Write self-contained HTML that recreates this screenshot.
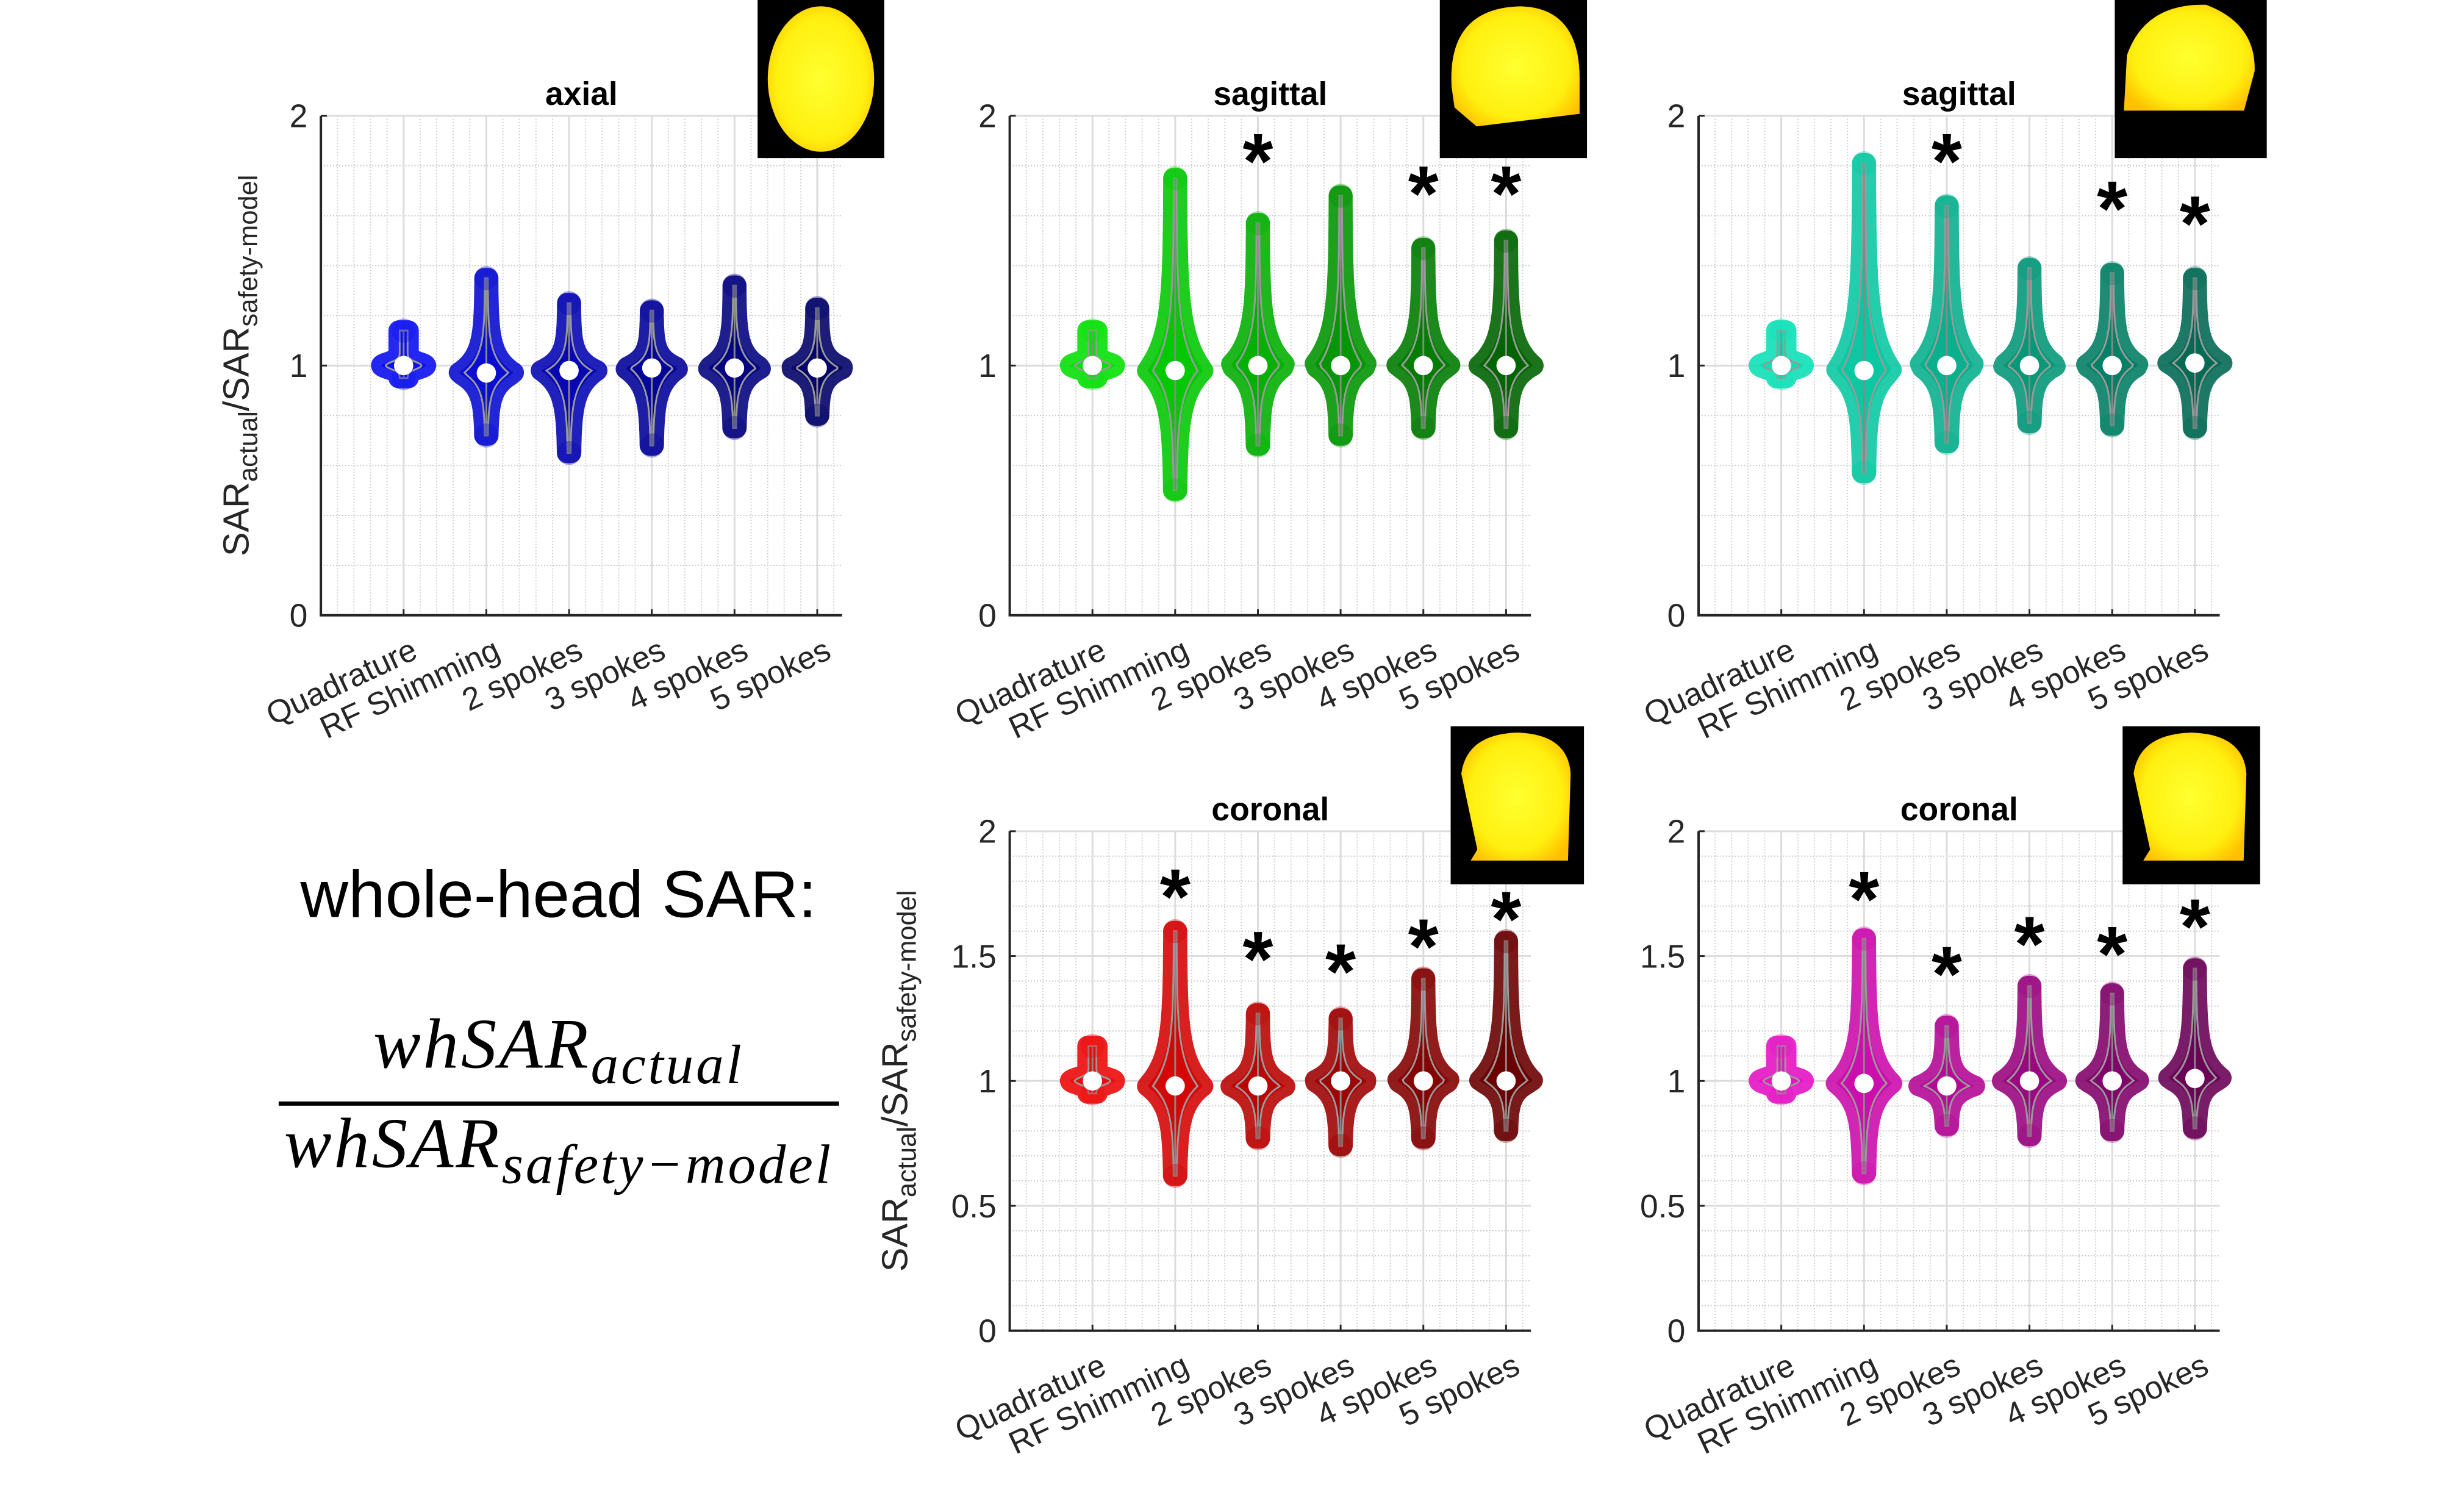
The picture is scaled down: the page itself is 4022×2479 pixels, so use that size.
<!DOCTYPE html>
<html><head><meta charset="utf-8"><style>
html,body{margin:0;padding:0;background:#fff}
svg{display:block}
text{font-family:"Liberation Sans",Arial,sans-serif}
</style></head><body>
<svg id="fig" width="4022" height="2479" viewBox="0 0 4022 2479" xmlns="http://www.w3.org/2000/svg">
<rect width="4022" height="2479" fill="#fff"/>
<g id="root" transform="scale(0.989)">
<g>
<text x="926" y="1520" font-size="110" text-anchor="middle" fill="#000">whole-head SAR:</text>
<text x="926" y="1770" font-size="118" font-style="italic" text-anchor="middle" style="font-family:'Liberation Serif',serif;letter-spacing:4px" fill="#000">whSAR<tspan font-size="92" dy="26">actual</tspan></text>
<rect x="462" y="1826" width="929" height="7" fill="#000"/>
<text x="926" y="1935" font-size="118" font-style="italic" text-anchor="middle" style="font-family:'Liberation Serif',serif;letter-spacing:4px" fill="#000">whSAR<tspan font-size="92" dy="26">safety−model</tspan></text>
</g>
</g>
</svg>
<script>
// ---------- data ----------
const categories = ["Quadrature","RF Shimming","2 spokes","3 spokes","4 spokes","5 spokes"];
const axialMedian = [1.00,0.97,0.98,0.99,0.99,0.99];
const axialMin    = [0.95,0.72,0.65,0.68,0.75,0.80];
const axialMax    = [1.14,1.35,1.25,1.22,1.32,1.23];
const sag1Median = [1.00,0.98,1.00,1.00,1.00,1.00];
const sag1Min    = [0.95,0.50,0.68,0.72,0.75,0.75];
const sag1Max    = [1.14,1.75,1.57,1.68,1.47,1.50];
const sag1Stars  = [null,null,1.86,null,1.73,1.73];
const sag2Median = [1.00,0.98,1.00,1.00,1.00,1.01];
const sag2Min    = [0.95,0.57,0.69,0.77,0.76,0.75];
const sag2Max    = [1.14,1.81,1.64,1.39,1.37,1.35];
const sag2Stars  = [null,null,1.86,null,1.67,1.61];
const cor1Median = [1.00,0.98,0.98,1.00,1.00,1.00];
const cor1Min    = [0.95,0.62,0.77,0.74,0.77,0.80];
const cor1Max    = [1.14,1.60,1.27,1.25,1.41,1.56];
const cor1Stars  = [null,1.78,1.53,1.48,1.58,1.69];
const cor2Median = [1.00,0.99,0.98,1.00,1.00,1.01];
const cor2Min    = [0.95,0.63,0.82,0.78,0.80,0.81];
const cor2Max    = [1.14,1.57,1.22,1.38,1.35,1.45];
const cor2Stars  = [null,1.77,1.47,1.59,1.55,1.66];
const halfWidth  = [0.27,0.34,0.34,0.33,0.33,0.33];
const topTicks = [0,1,2];
const botTicks = [0,0.5,1,1.5,2];

const NS="http://www.w3.org/2000/svg";
const svg=document.getElementById('root');
function mk(tag,attrs,parent){const e=document.createElementNS(NS,tag);for(const k in attrs)e.setAttribute(k,attrs[k]);(parent||svg).appendChild(e);return e;}

const panels=[
 {name:'axial',title:'axial',x0:532,x1:1396,y0:192,y1:1020,ticks:topTicks,minor:0.2,med:axialMedian,mn:axialMin,mx:axialMax,stars:[null,null,null,null,null,null],
  colors:['#0c10f0','#0a0ed0','#0808b4','#06069a','#050580','#040468'],ylabel:120,img:[1256,0,210,262,'axial']},
 {name:'sagittal-green',title:'sagittal',x0:1674,x1:2538,y0:192,y1:1020,ticks:topTicks,minor:0.2,med:sag1Median,mn:sag1Min,mx:sag1Max,stars:sag1Stars,
  colors:['#08e008','#06c806','#05b005','#049604','#037c03','#026402'],ylabel:0,img:[2387,0,244,262,'sag']},
 {name:'sagittal-teal',title:'sagittal',x0:2816,x1:3680,y0:192,y1:1020,ticks:topTicks,minor:0.2,med:sag2Median,mn:sag2Min,mx:sag2Max,stars:sag2Stars,
  colors:['#0ee0b6','#0cc8a2','#0ab08e','#08987a','#068066','#046a54'],ylabel:0,img:[3506,0,252,262,'sag2']},
 {name:'coronal-red',title:'coronal',x0:1674,x1:2538,y0:1378,y1:2206,ticks:botTicks,minor:0.1,med:cor1Median,mn:cor1Min,mx:cor1Max,stars:cor1Stars,
  colors:['#ec0a0a','#d40808','#ba0606','#9e0404','#840303','#6a0202'],ylabel:170,img:[2405,1204,221,262,'cor']},
 {name:'coronal-magenta',title:'coronal',x0:2816,x1:3680,y0:1378,y1:2206,ticks:botTicks,minor:0.1,med:cor2Median,mn:cor2Min,mx:cor2Max,stars:cor2Stars,
  colors:['#e414c4','#cc0eac','#b40a96','#9a0880','#82066c','#6a0458'],ylabel:0,img:[3519,1204,228,262,'cor2']}
];

panels.forEach(p=>{
 const g=mk('g',{});
 
 
 const xs=v=>p.x0+(p.x1-p.x0)*v/6.3;
 const ys=v=>p.y1-(p.y1-p.y0)*v/2;
 for(let v=0;v<=2.0001;v+=p.minor){const y=ys(v);mk('line',{x1:p.x0,x2:p.x1,y1:y,y2:y,stroke:'#c8c8c8','stroke-width':2,'stroke-dasharray':'2,3'},g);}
 for(let c=0.2;c<6.3;c+=0.2){const x=xs(c);mk('line',{x1:x,x2:x,y1:p.y0,y2:p.y1,stroke:'#d0d0d0','stroke-width':2,'stroke-dasharray':'2,3'},g);}
 p.ticks.forEach(v=>{const y=ys(v);mk('line',{x1:p.x0,x2:p.x1,y1:y,y2:y,stroke:'#dcdcdc','stroke-width':3},g);});
 categories.forEach((c,i)=>{const x=xs(i+1);mk('line',{x1:x,x2:x,y1:p.y0,y2:p.y1,stroke:'#dcdcdc','stroke-width':3},g);});
 categories.forEach((c,i)=>{
  const vg=mk('g',{},g);
  
  
  const cx=xs(i+1), med=p.med[i], lo=p.mn[i], hi=p.mx[i];
  const W=(xs(halfWidth[i])-xs(0));
  const su=Math.max(0.02,(hi-med)*0.18), sd=Math.max(0.02,(med-lo)*0.22);
  const N=60, right=[], left=[];
  for(let k=0;k<=N;k++){
   const v=lo+(hi-lo)*k/N;
   const d=v-med; const s=d>0?su:sd;
   let w=W*(0.06+0.94*Math.exp(-Math.abs(d)/s));
   if(i===0){w=W*(0.22+0.78*Math.exp(-Math.pow(d/0.02,2)));}
   right.push([cx+w,ys(v)]);left.push([cx-w,ys(v)]);
  }
  const pts=right.concat(left.reverse());
  const dstr='M'+pts.map(q=>q[0].toFixed(1)+','+q[1].toFixed(1)).join('L')+'Z';
  const col=p.colors[i];
  mk('path',{d:dstr,fill:col,stroke:col,'stroke-width':34,'stroke-linejoin':'round','stroke-opacity':0.9},vg);
  mk('line',{x1:cx,x2:cx,y1:ys(lo),y2:ys(hi),stroke:'#888','stroke-width':3},vg);
  const inner=right.map(q=>[cx+(q[0]-cx)*0.8,q[1]]).concat(left.map(q=>[cx+(q[0]-cx)*0.8,q[1]]));
  mk('path',{d:'M'+inner.map(q=>q[0].toFixed(1)+','+q[1].toFixed(1)).join('L')+'Z',fill:'none',stroke:'#9a9a9a','stroke-width':3},vg);
  mk('circle',{cx:cx,cy:ys(hi),r:20,fill:col,'fill-opacity':0.35},vg);
  mk('circle',{cx:cx,cy:ys(lo),r:20,fill:col,'fill-opacity':0.35},vg);
  mk('circle',{cx:cx,cy:ys(med),r:16,fill:'#fff'},vg);
  if(p.stars[i]!=null){
   const st=mk('text',{x:cx,y:ys(p.stars[i])+62,'font-size':130,'font-weight':'bold','text-anchor':'middle',fill:'#000'},g);
   st.textContent='*';
   
   
  }
 });
 mk('line',{x1:p.x0,x2:p.x0,y1:p.y0,y2:p.y1,stroke:'#262626','stroke-width':4},g);
 mk('line',{x1:p.x0-2,x2:p.x1,y1:p.y1,y2:p.y1,stroke:'#262626','stroke-width':4},g);
 p.ticks.forEach(v=>{const y=ys(v);mk('line',{x1:p.x0,x2:p.x0+10,y1:y,y2:y,stroke:'#262626','stroke-width':3},g);
  const t=mk('text',{x:p.x0-22,y:y+19,'font-size':54,'text-anchor':'end',fill:'#262626'},g);t.textContent=String(v);
  
  });
 categories.forEach((c,i)=>{const x=xs(i+1);
  mk('line',{x1:x,x2:x,y1:p.y1,y2:p.y1-10,stroke:'#262626','stroke-width':3},g);
  const t=mk('text',{x:x+26,y:p.y1+70,'font-size':53,'text-anchor':'end',fill:'#262626',transform:`rotate(-25 ${x+26} ${p.y1+70})`},g);
  t.textContent=c;
  
  });
 const tt=mk('text',{x:(p.x0+p.x1)/2,y:p.y0-18,'font-size':54,'font-weight':'bold','text-anchor':'middle',fill:'#000'},g);
 tt.textContent=p.title;
 
 
 if(p.ylabel){
  const cy=(p.y0+p.y1)/2, lx=p.x0-p.ylabel;
  const yl=mk('text',{x:lx,y:cy,'font-size':60,'text-anchor':'middle',fill:'#262626',transform:`rotate(-90 ${lx} ${cy})`},g);
  yl.innerHTML='SAR<tspan font-size="44" dy="14">actual</tspan><tspan dy="-14">/SAR</tspan><tspan font-size="44" dy="14">safety-model</tspan>';
  
  
 }
 const [ix,iy,iw,ih,kind]=p.img;
 const ig=mk('g',{},g);
 
 
 mk('rect',{x:ix,y:iy,width:iw,height:ih,fill:'#000'},ig);
 const gid='grad'+p.name;
 const df=mk('defs',{},ig);const rg=mk('radialGradient',{id:gid,cx:'0.5',cy:'0.5',r:'0.6'},df);
 mk('stop',{offset:'0','stop-color':'#ffff30'},rg);mk('stop',{offset:'0.7','stop-color':'#fff010'},rg);mk('stop',{offset:'1','stop-color':'#ffc000'},rg);
 if(kind==='axial'){mk('ellipse',{cx:ix+iw/2,cy:iy+ih/2,rx:iw*0.42,ry:ih*0.46,fill:`url(#${gid})`},ig);}
 else if(kind==='sag'){mk('path',{d:`M${ix+iw*0.08},${iy+ih*0.55} Q${ix+iw*0.05},${iy+ih*0.05} ${ix+iw*0.55},${iy+ih*0.04} Q${ix+iw*0.95},${iy+ih*0.05} ${ix+iw*0.95},${iy+ih*0.5} L${ix+iw*0.95},${iy+ih*0.72} L${ix+iw*0.25},${iy+ih*0.8} L${ix+iw*0.1},${iy+ih*0.68}Z`,fill:`url(#${gid})`},ig);}
 else if(kind==='sag2'){mk('path',{d:`M${ix+iw*0.06},${iy+ih*0.7} L${ix+iw*0.08},${iy+ih*0.35} Q${ix+iw*0.2},${iy+ih*0.02} ${ix+iw*0.6},${iy+ih*0.03} Q${ix+iw*0.93},${iy+ih*0.15} ${ix+iw*0.92},${iy+ih*0.45} L${ix+iw*0.85},${iy+ih*0.7}Z`,fill:`url(#${gid})`},ig);}
 else {mk('path',{d:`M${ix+iw*0.2},${iy+ih*0.78} L${ix+iw*0.08},${iy+ih*0.3} Q${ix+iw*0.12},${iy+ih*0.05} ${ix+iw*0.5},${iy+ih*0.04} Q${ix+iw*0.88},${iy+ih*0.05} ${ix+iw*0.9},${iy+ih*0.3} L${ix+iw*0.88},${iy+ih*0.85} L${ix+iw*0.15},${iy+ih*0.85}Z`,fill:`url(#${gid})`},ig);}
});
</script>
</body></html>
